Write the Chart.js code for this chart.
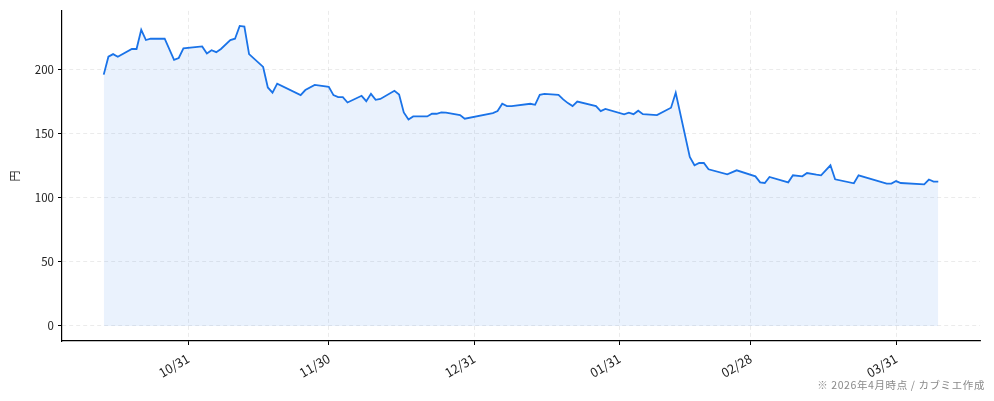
<!DOCTYPE html>
<html lang="ja">
<head>
<meta charset="utf-8">
<title>株価推移</title>
<script src="https://cdn.jsdelivr.net/npm/chart.js@4.4.1/dist/chart.umd.min.js"></script>
<style>
  html, body { margin: 0; padding: 0; background: #fff; }
  #wrap { position: relative; width: 994px; height: 401px; }
</style>
</head>
<body>
<div id="wrap"><canvas id="chart" width="994" height="401"></canvas></div>
<script>
"use strict";

// 終値 (円)
const DATES = [
  "2025-10-13", "2025-10-14", "2025-10-15", "2025-10-16", "2025-10-19", "2025-10-20",
  "2025-10-21", "2025-10-22", "2025-10-23", "2025-10-26", "2025-10-28", "2025-10-29",
  "2025-10-30", "2025-11-03", "2025-11-04", "2025-11-05", "2025-11-06", "2025-11-07",
  "2025-11-09", "2025-11-10", "2025-11-11", "2025-11-12", "2025-11-13", "2025-11-16",
  "2025-11-17", "2025-11-18", "2025-11-19", "2025-11-24", "2025-11-25", "2025-11-27",
  "2025-11-30", "2025-12-01", "2025-12-02", "2025-12-03", "2025-12-04", "2025-12-07",
  "2025-12-08", "2025-12-09", "2025-12-10", "2025-12-11", "2025-12-14", "2025-12-15",
  "2025-12-16", "2025-12-17", "2025-12-18", "2025-12-21", "2025-12-22", "2025-12-23",
  "2025-12-24", "2025-12-25", "2025-12-28", "2025-12-29", "2026-01-04", "2026-01-05",
  "2026-01-06", "2026-01-07", "2026-01-08", "2026-01-12", "2026-01-13", "2026-01-14",
  "2026-01-15", "2026-01-18", "2026-01-19", "2026-01-20", "2026-01-21", "2026-01-22",
  "2026-01-26", "2026-01-27", "2026-01-28", "2026-02-01", "2026-02-02", "2026-02-03",
  "2026-02-04", "2026-02-05", "2026-02-08", "2026-02-11", "2026-02-12", "2026-02-15",
  "2026-02-16", "2026-02-17", "2026-02-18", "2026-02-19", "2026-02-23", "2026-02-25",
  "2026-03-01", "2026-03-02", "2026-03-03", "2026-03-04", "2026-03-08", "2026-03-09",
  "2026-03-11", "2026-03-12", "2026-03-14", "2026-03-15", "2026-03-17", "2026-03-18",
  "2026-03-22", "2026-03-23", "2026-03-29", "2026-03-30", "2026-03-31", "2026-04-01",
  "2026-04-06", "2026-04-07", "2026-04-08", "2026-04-09",
];

const PRICES = [
  196, 210, 212, 210, 216, 216,
  231, 223, 224, 224, 207.5, 209,
  216.5, 218, 212.5, 215, 213.5, 216,
  223, 224, 234, 233.5, 212, 202,
  186, 182, 189, 180, 184, 188,
  186.5, 180, 178.5, 178.5, 174.3, 179.5,
  175.3, 181, 176.4, 177, 183.4, 180.5,
  166.5, 161, 163.4, 163.4, 165.5, 165.5,
  166.5, 166.3, 164.5, 161.6, 166, 167.6,
  173.3, 171.5, 171.5, 173.3, 172.5, 180.3,
  181, 180.3, 176.7, 173.8, 171.5, 175,
  171.5, 167.6, 169.3, 165, 166.3, 165.2,
  167.9, 165.2, 164.5, 170.2, 181.8, 131.8,
  125.3, 127.1, 127.1, 122.2, 118.3, 121.4,
  116.7, 112, 111.5, 116.2, 112, 117.5,
  116.7, 119.3, 118, 117.5, 125.3, 114.4,
  111.3, 117.5, 111, 111, 113, 111.5,
  110.5, 114.2, 112.6, 112.6,
];

const X_TICK_DATES = ["2025-10-31", "2025-11-30", "2025-12-31", "2026-01-31", "2026-02-28", "2026-03-31"];
const X_TICK_LABELS = ["10/31", "11/30", "12/31", "01/31", "02/28", "03/31"];
const Y_TICKS = [0, 50, 100, 150, 200];

const Y_TITLE = "円";
const FOOTNOTE = "※ 2026年4月時点 / カブミエ作成";

const FONT = "'Noto Sans CJK JP', 'Noto Sans', sans-serif";
const BLUE = "#1a73e8";

function dayNum(iso) {
  const [y, m, d] = iso.split("-").map(Number);
  return Math.round(Date.UTC(y, m - 1, d) / 86400000);
}

const xs = DATES.map(dayNum);
const points = xs.map((x, i) => ({ x, y: PRICES[i] }));

const xMin0 = Math.min(...xs), xMax0 = Math.max(...xs);
const xPad = (xMax0 - xMin0) * 0.05;
const yMax0 = Math.max(...PRICES);
const yPad = yMax0 * 0.05;

const tickLabelByDay = new Map(X_TICK_DATES.map((d, i) => [dayNum(d), X_TICK_LABELS[i]]));

const footnote = {
  id: "footnote",
  afterDraw(chart) {
    const ctx = chart.ctx;
    ctx.save();
    ctx.font = "10.5px " + FONT;
    ctx.fillStyle = "#8a8a8a";
    ctx.textAlign = "right";
    ctx.textBaseline = "middle";
    if ("letterSpacing" in ctx) ctx.letterSpacing = "0.6px";
    ctx.fillText(FOOTNOTE, 985, 385);
    ctx.restore();
  },
};

new Chart(document.getElementById("chart"), {
  type: "line",
  data: {
    datasets: [{
      data: points,
      borderColor: BLUE,
      borderWidth: 1.8,
      backgroundColor: "rgba(26,115,232,0.09)",
      fill: "origin",
      pointRadius: 0,
      tension: 0,
    }],
  },
  options: {
    responsive: false,
    animation: false,
    layout: { padding: { left: 8, right: 14, top: 10, bottom: 0 } },
    plugins: {
      legend: { display: false },
      tooltip: { enabled: false },
    },
    scales: {
      x: {
        type: "linear",
        min: xMin0 - xPad,
        max: xMax0 + xPad,
        afterBuildTicks: (s) => { s.ticks = X_TICK_DATES.map((d) => ({ value: dayNum(d) })); },
        afterFit: (s) => { s.height = 60; },
        ticks: {
          autoSkip: false,
          minRotation: 30,
          maxRotation: 30,
          padding: 6,
          color: "#222",
          font: { family: FONT, size: 12.5 },
          callback: (v) => tickLabelByDay.get(v) || "",
        },
        grid: {
          color: "rgba(0,0,0,0.1)",
          lineWidth: 0.8,
          tickColor: "#000",
          tickLength: 4,
          tickWidth: 1,
          tickBorderDash: [],
        },
        border: { display: true, color: "#000", width: 1.2, dash: [4, 3] },
      },
      y: {
        type: "linear",
        min: -yPad,
        max: yMax0 + yPad,
        afterBuildTicks: (s) => { s.ticks = Y_TICKS.map((v) => ({ value: v })); },
        afterFit: (s) => { s.width = 54; },
        title: {
          display: true,
          text: Y_TITLE,
          color: "#222",
          font: { family: FONT, size: 11 },
          padding: 0,
        },
        ticks: {
          padding: 4,
          color: "#222",
          font: { family: FONT, size: 11.5 },
        },
        grid: {
          color: "rgba(0,0,0,0.1)",
          lineWidth: 0.8,
          tickColor: "#000",
          tickLength: 4,
          tickWidth: 1,
          tickBorderDash: [],
        },
        border: { display: true, color: "#000", width: 1.2, dash: [4, 3] },
      },
    },
  },
  plugins: [footnote],
});
</script>
</body>
</html>
